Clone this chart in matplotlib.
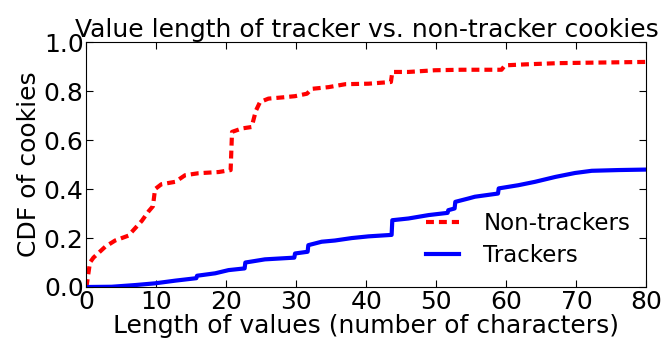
import matplotlib
matplotlib.use('Agg')
import matplotlib.pyplot as plt
import numpy as np

# non-tracker cookies: points
x_non = [0, 0.5, 1, 2.7, 4.1, 6, 7.9, 8.9, 9.5, 9.8, 10.7, 12.7, 14.1, 16, 18.9,
         20.6, 20.8, 22.2, 23.6, 24.2, 24.8, 26, 28, 29.8, 31.5, 32.2, 34.6, 37,
         40.3, 43.5, 43.7, 46, 49.8, 53.6, 59.3, 59.8, 62.7, 67.4, 72.2, 80]
y_non = [0, 0.1, 0.12, 0.165, 0.19, 0.21, 0.27, 0.31, 0.33, 0.4, 0.42, 0.43, 0.457, 0.465, 0.47,
         0.478, 0.634, 0.648, 0.654, 0.72, 0.756, 0.77, 0.775, 0.78, 0.79, 0.81, 0.817, 0.829,
         0.831, 0.838, 0.879, 0.879, 0.886, 0.888, 0.888, 0.906, 0.91, 0.915, 0.917, 0.92]

# tracker cookies
x_trk = [0, 3.6, 7, 9.8, 12.7, 15.7, 15.8, 18.4, 20.3, 22.6, 22.7, 25.5, 29.7,
         29.8, 31.6, 31.7, 33.6, 35.5, 37.9, 40.3, 43.6, 43.7, 46, 48.9, 51.6,
         51.7, 52.6, 52.7, 54.6, 55.5, 58.8, 58.9, 61.7, 64.1, 67, 69.8, 72.2, 76, 80]
y_trk = [0, 0.001, 0.008, 0.015, 0.026, 0.036, 0.046, 0.056, 0.069, 0.076, 0.1, 0.113, 0.12,
         0.137, 0.144, 0.171, 0.185, 0.19, 0.2, 0.207, 0.213, 0.273, 0.28, 0.294, 0.303,
         0.314, 0.321, 0.348, 0.362, 0.369, 0.382, 0.403, 0.416, 0.43, 0.45, 0.466, 0.475, 0.478, 0.48]

plt.rcParams['font.size'] = 18
plt.rcParams['xtick.direction'] = 'in'
plt.rcParams['ytick.direction'] = 'in'
plt.rcParams['xtick.top'] = True
plt.rcParams['ytick.right'] = True

fig = plt.figure(figsize=(6.65, 3.5), dpi=100)
ax = fig.add_axes([0.13, 0.18, 0.842, 0.699])

ax.plot(x_non, y_non, color='r', ls=(0, (1.9, 1.2)), lw=3, label='Non-trackers')
ax.plot(x_trk, y_trk, color='b', ls='-', lw=3, label='Trackers')

ax.set_xlim(0, 80)
ax.set_ylim(0, 1.0)
ax.set_xticks(np.arange(0, 81, 10))
ax.set_yticks(np.arange(0, 1.01, 0.2))
ax.set_yticklabels(['%.1f' % v for v in np.arange(0, 1.01, 0.2)])
ax.tick_params(length=5, width=0.8, pad=2)
ax.set_xlabel('Length of values (number of characters)', labelpad=0)
ax.set_ylabel('CDF of cookies', labelpad=2)
ax.set_title('Value length of tracker vs. non-tracker cookies', fontsize=18, pad=4)
ax.legend(loc='lower right', bbox_to_anchor=(0.9875, 0.044), frameon=False, fontsize=16.5,
          handlelength=1.45, handletextpad=1.05, labelspacing=0.41, borderaxespad=0)

fig.savefig('out.png', dpi=100)
